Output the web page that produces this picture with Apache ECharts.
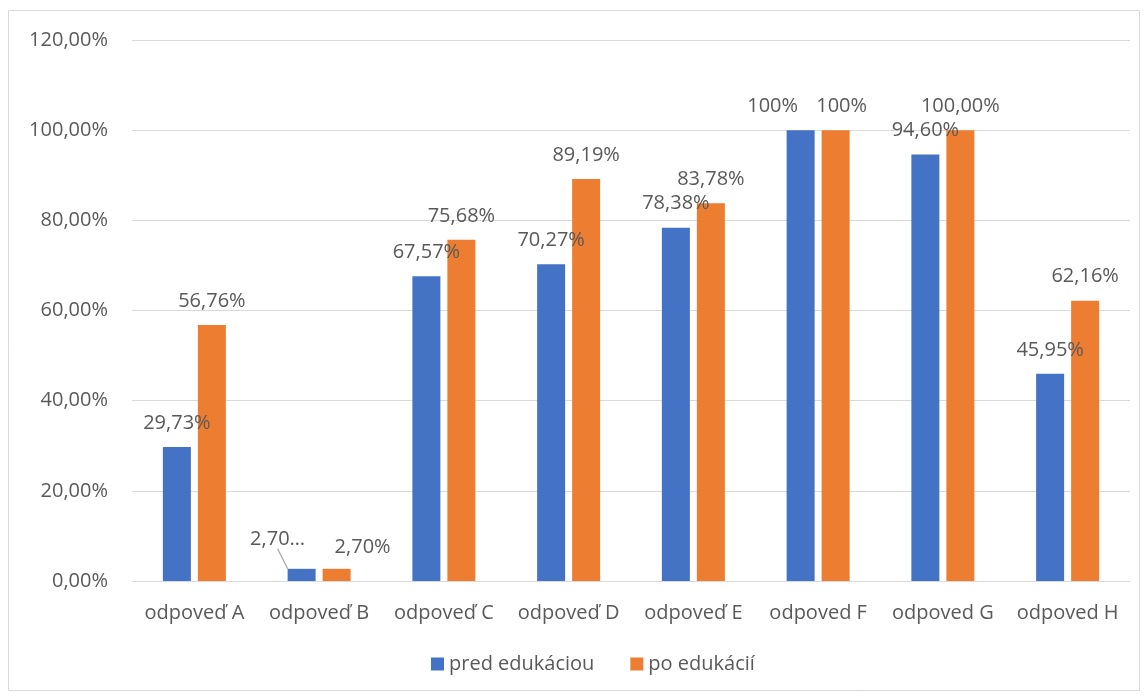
<!DOCTYPE html>
<html>
<head>
<meta charset="utf-8">
<script src="https://cdn.jsdelivr.net/npm/echarts@6/dist/echarts.min.js"></script>
<style>
  html, body { margin: 0; padding: 0; background: #fff; }
  #main { width: 1147px; height: 697px; }
</style>
</head>
<body>
<div id="main"></div>
<script>
var categories = ['odpoveď A', 'odpoveď B', 'odpoveď C', 'odpoveď D', 'odpoveď E', 'odpoved F', 'odpoved G', 'odpoved H'];
var predValues = [29.73, 2.70, 67.57, 70.27, 78.38, 100, 94.60, 45.95];
var poValues = [56.76, 2.70, 75.68, 89.19, 83.78, 100, 100, 62.16];
var predLabels = ['29,73%', '2,70…', '67,57%', '70,27%', '78,38%', '100%', '94,60%', '45,95%'];
var poLabels = ['56,76%', '2,70%', '75,68%', '89,19%', '83,78%', '100%', '100,00%', '62,16%'];
var yTicks = [0, 20, 40, 60, 80, 100, 120];

var font = 'Open Sans';
var txt = '#595959';

// labels that Excel had nudged aside: [dx, dy]
var predShift = { 1: [-24, -6], 5: [-28, 0] };
var poShift = { 1: [26, 2], 5: [6, 0] };

function makeData(vals, labels, lineIdx) {
  return vals.map(function (v, i) {
    var d = { value: v, labelText: labels[i] };
    if (i === lineIdx) {
      d.labelLine = { show: true, lineStyle: { color: '#a6a6a6', width: 1.2 } };
    }
    return d;
  });
}

function shifter(map) {
  return function (p) {
    var s = map[p.dataIndex];
    if (s) return { dx: s[0], dy: s[1] };
    return {};
  };
}

var chart = echarts.init(document.getElementById('main'));
var option = {
  animation: false,
  textStyle: { fontFamily: font },
  graphic: [{
    type: 'rect',
    shape: { x: 8.5, y: 10.5, width: 1131, height: 680 },
    style: { fill: 'none', stroke: '#d9d9d9', lineWidth: 1 },
    silent: true
  }],
  grid: { left: 132, right: 17, top: 40, bottom: 116 },
  legend: {
    bottom: 18,
    left: 426,
    itemWidth: 13,
    itemHeight: 13,
    itemGap: 36,
    icon: 'rect',
    textStyle: { color: txt, fontSize: 20, fontFamily: font },
    data: ['pred edukáciou', 'po edukácií']
  },
  xAxis: {
    type: 'category',
    data: categories,
    axisTick: { show: false },
    axisLine: { lineStyle: { color: '#d9d9d9' } },
    axisLabel: { color: txt, fontSize: 20, margin: 22, fontFamily: font, interval: 0 }
  },
  yAxis: {
    type: 'value',
    min: yTicks[0],
    max: yTicks[yTicks.length - 1],
    interval: 20,
    axisLine: { show: false },
    axisTick: { show: false },
    splitLine: { lineStyle: { color: '#d9d9d9' } },
    axisLabel: {
      color: txt, fontSize: 20, margin: 24, fontFamily: font,
      formatter: function (v) { return v.toFixed(2).replace('.', ',') + '%'; }
    }
  },
  series: [{
    name: 'pred edukáciou',
    type: 'bar',
    barWidth: 28,
    barGap: '25%',
    itemStyle: { color: '#4472C4' },
    label: {
      show: true, position: 'top', distance: 14, color: txt, fontSize: 20, fontFamily: font,
      formatter: function (p) { return p.data.labelText; }
    },
    labelLayout: shifter(predShift),
    data: makeData(predValues, predLabels, 1)
  }, {
    name: 'po edukácií',
    type: 'bar',
    barWidth: 28,
    itemStyle: { color: '#ED7D31' },
    label: {
      show: true, position: 'top', distance: 14, color: txt, fontSize: 20, fontFamily: font,
      formatter: function (p) { return p.data.labelText; }
    },
    labelLayout: shifter(poShift),
    data: makeData(poValues, poLabels, -1)
  }]
};
chart.setOption(option);
</script>
</body>
</html>
